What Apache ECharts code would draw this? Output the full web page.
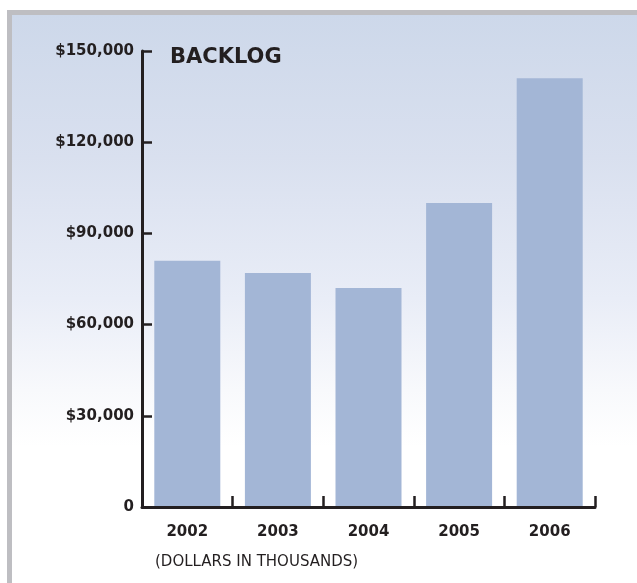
<!DOCTYPE html>
<html>
<head>
<meta charset="utf-8">
<script src="https://cdn.jsdelivr.net/npm/echarts@6/dist/echarts.min.js"></script>
<style>
  html, body { margin: 0; padding: 0; background: #ffffff; }
  #chart { width: 637px; height: 583px; }
</style>
</head>
<body>
<div id="chart"></div>
<script>
// Backlog by year (dollars in thousands)
const years = ['2002', '2003', '2004', '2005', '2006'];
const backlog = [81000, 77000, 72000, 100000, 141000];
const yMax = 150000;
const yStep = 30000;

const FONT = 'DejaVu Sans';
const INK = '#231f20';

function moneyLabel(v) {
  if (v === 0) return '0';
  return '$' + v.toLocaleString('en-US');
}

const chart = echarts.init(document.getElementById('chart'), null, { renderer: 'canvas' });

chart.setOption({
  animation: false,
  backgroundColor: '#ffffff',
  graphic: [
    // grey frame on the top and left edges
    {
      type: 'rect', z: -100, silent: true,
      shape: { x: 7, y: 10, width: 630, height: 573 },
      style: { fill: '#bebec2' }
    },
    // soft blue panel fading to white
    {
      type: 'rect', z: -99, silent: true,
      shape: { x: 12, y: 15, width: 625, height: 568 },
      style: {
        fill: new echarts.graphic.LinearGradient(0, 0, 0, 1, [
          { offset: 0.0, color: '#cdd8ea' },
          { offset: 0.25, color: '#d9e0ef' },
          { offset: 0.5, color: '#e9edf7' },
          { offset: 0.66, color: '#f8f9fc' },
          { offset: 0.76, color: '#ffffff' },
          { offset: 1.0, color: '#ffffff' }
        ])
      }
    },
    {
      type: 'text', silent: true,
      left: 155, top: 555,
      style: {
        text: '(DOLLARS IN THOUSANDS)',
        font: '15px "' + FONT + '"',
        fill: INK
      }
    }
  ],
  title: {
    text: 'BACKLOG',
    left: 170,
    top: 47,
    padding: 0,
    textStyle: {
      fontFamily: FONT,
      fontWeight: 'bold',
      fontSize: 21,
      color: INK
    }
  },
  grid: {
    left: 142,
    top: 51,
    width: 453,
    height: 456,
    containLabel: false
  },
  xAxis: {
    type: 'category',
    data: years,
    z: 5,
    axisLine: { lineStyle: { color: INK, width: 3 } },
    axisTick: {
      show: true,
      inside: true,
      length: 11,
      alignWithLabel: false,
      lineStyle: { color: INK, width: 2.5 }
    },
    axisLabel: {
      margin: 18,
      fontFamily: FONT,
      fontWeight: 'bold',
      fontSize: 15,
      color: INK
    },
    splitLine: { show: false }
  },
  yAxis: {
    type: 'value',
    min: 0,
    max: yMax,
    interval: yStep,
    z: 5,
    axisLine: { show: true, lineStyle: { color: INK, width: 3 } },
    axisTick: {
      show: true,
      inside: true,
      length: 10,
      lineStyle: { color: INK, width: 2.5 }
    },
    axisLabel: {
      margin: 8,
      formatter: moneyLabel,
      fontFamily: FONT,
      fontWeight: 'bold',
      fontSize: 15,
      color: INK
    },
    splitLine: { show: false }
  },
  series: [{
    type: 'bar',
    data: backlog,
    barWidth: 66,
    itemStyle: { color: '#a3b6d6' },
    z: 2
  }]
});
</script>
</body>
</html>
